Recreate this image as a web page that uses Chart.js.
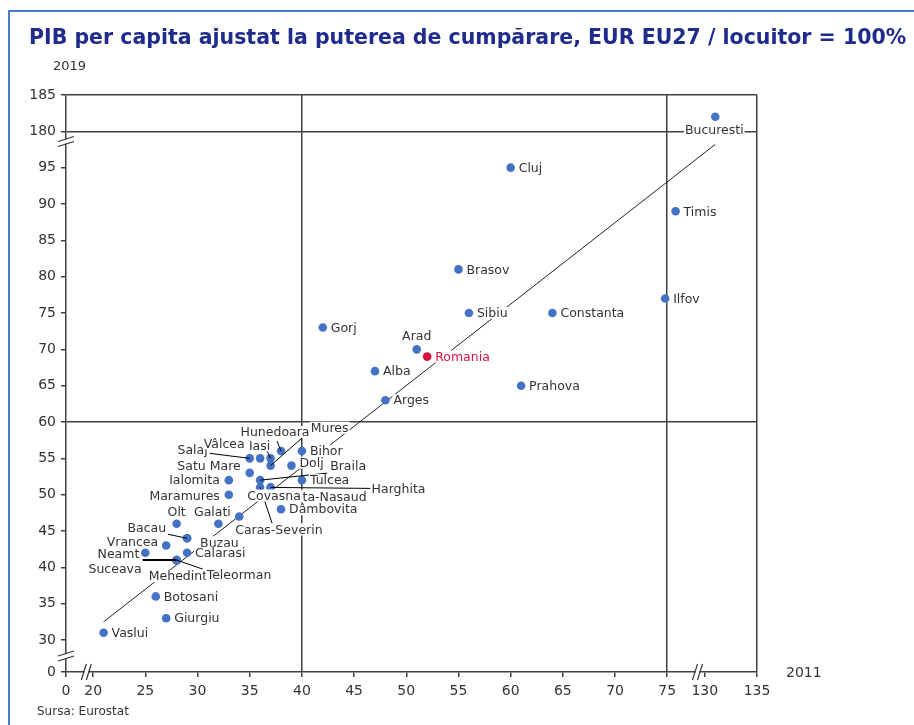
<!DOCTYPE html>
<html>
<head>
<meta charset="utf-8">
<script src="https://cdn.jsdelivr.net/npm/chart.js@4.4.1/dist/chart.umd.min.js"></script>
<style>
  html, body { margin: 0; padding: 0; background: #ffffff; }
  #wrap { position: relative; width: 914px; height: 725px; overflow: hidden; }
  #frame { position: absolute; left: 8px; top: 10px; width: 940px; height: 740px;
           border-left: 2px solid #4a7bd2; border-top: 2px solid #4a7bd2; }
  canvas { position: absolute; left: 0; top: 0; }
  .txt { position: absolute; font-family: "DejaVu Sans", sans-serif; color: #333333; white-space: nowrap; }
  #title { left: 29px; top: 25px; font-weight: bold; font-size: 20.5px; color: #1f2c8c; }
  #ylab { left: 53px; top: 58px; font-size: 13px; }
  #xlab { left: 786px; top: 664px; font-size: 14px; }
  #source { left: 37px; top: 704px; font-size: 12px; }
</style>
</head>
<body>
<div id="wrap">
  <div id="frame"></div>
  <canvas id="gdpChart" width="914" height="725"></canvas>
  <div class="txt" id="title">PIB per capita ajustat la puterea de cumpărare, EUR EU27 / locuitor = 100%</div>
  <div class="txt" id="ylab">2019</div>
  <div class="txt" id="xlab">2011</div>
  <div class="txt" id="source">Sursa: Eurostat</div>
</div>
<script>
// Counties: GDP per capita PPS (EU27 = 100), 2011 on x, 2019 on y
const counties = [
  "Bucuresti", "Cluj", "Timis", "Brasov", "Ilfov", "Sibiu", "Constanta", "Gorj",
  "Arad", "Romania", "Alba", "Prahova", "Arges", "Hunedoara", "Bihor", "Salaj",
  "Vâlcea", "Iasi", "Mures", "Dolj", "Satu Mare", "Ialomita", "Braila", "Tulcea",
  "Harghita", "Bistrita-Nasaud", "Covasna", "Caras-Severin", "Maramures", "Dâmbovita",
  "Olt", "Galati", "Bacau", "Buzau", "Vrancea", "Calarasi", "Neamt", "Suceava",
  "Mehedinti", "Teleorman", "Botosani", "Giurgiu", "Vaslui",
];
const x2011 = [
  131, 60, 75.8, 55, 74.8, 56, 64, 42,
  51, 52, 47, 61, 48, 38, 40, 35,
  36, 37, 37, 39, 35, 33, 36, 40,
  37, 37, 34, 36, 33, 38,
  28, 32, 29, 29, 27, 29, 25, 28,
  28, 28, 26, 27, 21,
];
const y2019 = [
  182, 95, 89, 81, 77, 75, 75, 73,
  70, 69, 67, 65, 63, 56, 56, 55,
  55, 55, 54, 54, 53, 52, 52, 52,
  51, 51, 47, 51, 50, 48,
  46, 46, 44, 44, 43, 42, 42, 41,
  41, 41, 36, 33, 31,
];
const xTickValues = [0, 20, 25, 30, 35, 40, 45, 50, 55, 60, 65, 70, 75, 130, 135];
const yTickValues = [0, 30, 35, 40, 45, 50, 55, 60, 65, 70, 75, 80, 85, 90, 95, 180, 185];
const xQuadrant = [40, 75, 135];
const yQuadrant = [60, 180, 185];
// linear trend drawn on the plotted (broken) axes
const trendX = [21, 131];
const trendY = [32.5, 98.2];

// broken axes: 0 sits just below 20 / 30, the 130+ and 180+ blocks follow 75 / 95
function tx(v) {
  if (v >= 100) return v - 130 + 78.6;
  if (v < 20) return 17.4 + (v * 2.6) / 20;
  return v;
}
function ty(v) {
  if (v >= 150) return v - 80;
  if (v < 30) return 25.6 + (v * 4.4) / 30;
  return v;
}

// label placement: [dx, dy, align] in pixels from the dot; default is to the right
const labelPos = {
  "Bucuresti": [-1, 13, "center"],
  "Arad": [0, -14, "center"],
  "Hunedoara": [-6, -19, "center"],
  "Mures": [59, -38, "center"],
  "Salaj": [-42, -9, "right"],
  "Vâlcea": [-36, -15, "center"],
  "Iasi": [-11, -13, "center"],
  "Satu Mare": [-9, -7, "right"],
  "Dolj": [8, -3, "left"],
  "Braila": [70, -14, "left"],
  "Ialomita": [-9, 0, "right"],
  "Harghita": [101, 1, "left"],
  "Bistrita-Nasaud": [96, 9, "right"],
  "Covasna": [8, -21, "left"],
  "Caras-Severin": [-25, 42, "left"],
  "Maramures": [-9, 1, "right"],
  "Olt": [0, -12, "center"],
  "Galati": [-6, -12, "center"],
  "Bacau": [-21, -11, "right"],
  "Buzau": [13, 4, "left"],
  "Vrancea": [-8, -4, "right"],
  "Neamt": [-6, 1, "right"],
  "Suceava": [-35, 9, "right"],
  "Mehedinti": [3, 16, "center"],
  "Teleorman": [30, 15, "left"],
};
// leader lines: end point offset from the dot, and width
const leaders = {
  "Hunedoara": [-4, -10, 1],
  "Mures": [41, -36, 1],
  "Iasi": [-4, -8, 1],
  "Salaj": [-40, -5, 1],
  "Braila": [67, -7, 1],
  "Harghita": [100, 1, 1],
  "Caras-Severin": [12, 36, 1],
  "Bacau": [-19, -4, 1],
  "Suceava": [-34, 0, 2],
  "Teleorman": [26, 9, 1],
};

const pointColors = counties.map((c) => (c === "Romania" ? "#d7143c" : "#4472c4"));

const labelPlugin = {
  id: "countyLabels",
  afterDatasetsDraw(chart) {
    const ctx = chart.ctx;
    const pts = chart.getDatasetMeta(0).data;
    ctx.save();
    // leaders first, labels sit on top of them
    ctx.strokeStyle = "#000000";
    counties.forEach((name, i) => {
      const l = leaders[name];
      if (!l) return;
      ctx.lineWidth = l[2];
      ctx.beginPath();
      ctx.moveTo(pts[i].x, pts[i].y);
      ctx.lineTo(pts[i].x + l[0], pts[i].y + l[1]);
      ctx.stroke();
    });
    ctx.font = '12.5px "DejaVu Sans"';
    ctx.textBaseline = "middle";
    counties.forEach((name, i) => {
      const p = labelPos[name] || [8, 0, "left"];
      const x = pts[i].x + p[0];
      const y = pts[i].y + p[1];
      const w = ctx.measureText(name).width;
      let left = x;
      if (p[2] === "center") left = x - w / 2;
      if (p[2] === "right") left = x - w;
      ctx.fillStyle = "#ffffff";
      ctx.fillRect(left - 1, y - 6, w + 2, 12);
      ctx.fillStyle = name === "Romania" ? "#d7143c" : "#333333";
      ctx.textAlign = "left";
      ctx.fillText(name, left, y + 1);
    });
    ctx.restore();
  },
};

// the little "//" marks where the axes are cut
const breakPlugin = {
  id: "axisBreaks",
  afterDraw(chart) {
    const ctx = chart.ctx;
    const xs = chart.scales.x;
    const ys = chart.scales.y;
    const area = chart.chartArea;
    ctx.save();
    ctx.lineWidth = 1.2;
    [19.35, 77.9].forEach((v) => {
      const bx = xs.getPixelForValue(v);
      const by = area.bottom;
      ctx.fillStyle = "#ffffff";
      ctx.fillRect(bx - 2, by - 2, 4, 4);
      ctx.strokeStyle = "#333333";
      [-2.5, 2.5].forEach((o) => {
        ctx.beginPath();
        ctx.moveTo(bx + o - 2.5, by + 8);
        ctx.lineTo(bx + o + 2.5, by - 8);
        ctx.stroke();
      });
    });
    [27.8, 98.6].forEach((v) => {
      const by = ys.getPixelForValue(v);
      const bx = area.left;
      ctx.fillStyle = "#ffffff";
      ctx.fillRect(bx - 2, by - 2, 4, 4);
      ctx.strokeStyle = "#333333";
      [-2.5, 2.5].forEach((o) => {
        ctx.beginPath();
        ctx.moveTo(bx - 8, by + o + 2.5);
        ctx.lineTo(bx + 8, by + o - 2.5);
        ctx.stroke();
      });
    });
    ctx.restore();
  },
};

const nearTick = (list, fn) => (c) =>
  c.tick && list.some((v) => Math.abs(fn(v) - c.tick.value) < 0.01) ? "#404040" : "rgba(0,0,0,0)";

const ctx = document.getElementById("gdpChart").getContext("2d");
window.gdpChart = new Chart(ctx, {
  type: "scatter",
  data: {
    datasets: [
      {
        label: "Judete",
        data: counties.map((c, i) => ({ x: tx(x2011[i]), y: ty(y2019[i]) })),
        backgroundColor: pointColors,
        borderColor: pointColors,
        pointRadius: 4.3,
        pointBorderWidth: 0,
        order: 0,
      },
      {
        type: "line",
        label: "Trend",
        data: trendX.map((v, i) => ({ x: tx(v), y: ty(trendY[i]) })),
        borderColor: "#222222",
        borderWidth: 1,
        pointRadius: 0,
        fill: false,
        order: 1,
      },
    ],
  },
  options: {
    responsive: false,
    animation: false,
    layout: { padding: { left: 0, right: 157, top: 95, bottom: 0 } },
    scales: {
      x: {
        type: "linear",
        min: tx(0),
        max: tx(135),
        afterBuildTicks: (scale) => {
          scale.ticks = xTickValues.map((v) => ({ value: tx(v) }));
        },
        afterFit: (scale) => {
          scale.height = 53;
        },
        ticks: {
          autoSkip: false,
          maxRotation: 0,
          padding: 6,
          color: "#333333",
          font: { family: "'DejaVu Sans', sans-serif", size: 14 },
          callback: (value, index) => String(xTickValues[index]),
        },
        grid: {
          color: nearTick(xQuadrant, tx),
          lineWidth: 1.5,
          tickColor: "#404040",
          tickLength: 5,
        },
        border: { display: true, color: "#404040", width: 1.5 },
      },
      y: {
        type: "linear",
        min: ty(0),
        max: ty(185),
        afterBuildTicks: (scale) => {
          scale.ticks = yTickValues.map((v) => ({ value: ty(v) }));
        },
        afterFit: (scale) => {
          scale.width = 66;
        },
        ticks: {
          autoSkip: false,
          padding: 5,
          color: "#333333",
          font: { family: "'DejaVu Sans', sans-serif", size: 14 },
          callback: (value, index) => String(yTickValues[index]),
        },
        grid: {
          color: nearTick(yQuadrant, ty),
          lineWidth: 1.5,
          tickColor: "#404040",
          tickLength: 5,
        },
        border: { display: true, color: "#404040", width: 1.5 },
      },
    },
    plugins: {
      legend: { display: false },
      tooltip: { enabled: false },
    },
  },
  plugins: [labelPlugin, breakPlugin],
});
</script>
</body>
</html>
